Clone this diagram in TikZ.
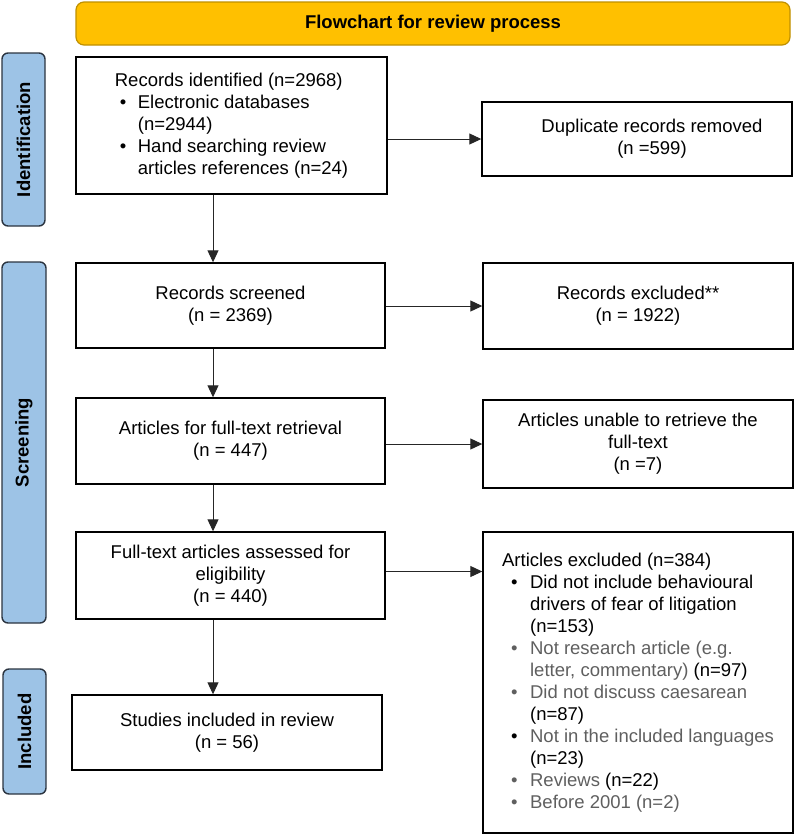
\documentclass[tikz,border=0pt]{standalone}
\usepackage{fontspec}
\setmainfont{Liberation Sans}
\usetikzlibrary{arrows.meta}
\definecolor{titlefill}{HTML}{FFC000}
\definecolor{titledraw}{HTML}{BF9000}
\definecolor{sidefill}{HTML}{9DC3E6}
\definecolor{sidedraw}{HTML}{2B3440}
\definecolor{txtgray}{RGB}{95,95,95}
\newcommand{\bitem}[3]{\hspace*{#1}\makebox[#2][l]{\textcolor{#3}{•}}}
\tikzset{
  mainfont/.style={font=\fontsize{18.5}{22}\selectfont},
  flowbox/.style={draw, line width=1.4pt, inner sep=0pt, align=center, mainfont},
  sidebox/.style={draw=sidedraw, fill=sidefill, line width=1.4pt, rounded corners=6pt, inner sep=0pt},
  sidetext/.style={rotate=90, font=\fontsize{18.5}{22}\selectfont\bfseries},
  arr/.style={draw=black!85, line width=1pt, -{Triangle[length=12pt,width=11pt]}}
}
\begin{document}
\begin{tikzpicture}[x=1pt,y=-1pt]
\useasboundingbox (0,0) rectangle (795,835);

% title
\node[draw=titledraw, fill=titlefill, line width=1.2pt, rounded corners=8pt,
      minimum width=714pt, minimum height=43pt, inner sep=0pt,
      font=\fontsize{18.5}{22}\selectfont\bfseries] (title) at (433,23.5) {Flowchart for review process};

% side labels
\node[sidebox, minimum width=43pt, minimum height=173pt] (sideid) at (23.5,139.5) {};
\node[sidetext] (sideidt) at (sideid.center) {Identification};
\node[sidebox, minimum width=44pt, minimum height=361pt] (sidescr) at (24,442.5) {};
\node[sidetext] (sidescrt) at (sidescr.center) {Screening};
\node[sidebox, minimum width=43pt, minimum height=125pt] (sideinc) at (24.5,731.5) {};
\node[sidetext] (sideinct) at (sideinc.center) {Included};

% left column
\node[flowbox, align=left, minimum width=311pt, minimum height=137pt] (ident) at (231.5,125.5)
  {Records identified (n=2968)\\
   \bitem{5pt}{18pt}{black}Electronic databases\\
   \hspace*{23pt}(n=2944)\\
   \bitem{5pt}{18pt}{black}Hand searching review\\
   \hspace*{23pt}articles references (n=24)};
\node[flowbox, minimum width=309pt, minimum height=85pt] (screened) at (230.5,305.5)
  {Records screened\\(n = 2369)};
\node[flowbox, minimum width=309pt, minimum height=86pt] (retr) at (230.5,441)
  {Articles for full-text retrieval\\(n = 447)};
\node[flowbox, minimum width=309pt, minimum height=87pt] (assess) at (230.5,575.5)
  {Full-text articles assessed for\\eligibility\\(n = 440)};
\node[flowbox, minimum width=310pt, minimum height=75pt] (studies) at (227,732.5)
  {Studies included in review\\(n = 56)};

% right column
\node[flowbox, minimum width=310pt, minimum height=74pt] (dup) at (637,139)
  {\hspace*{30pt}Duplicate records removed\\\hspace*{30pt}(n =599)};
\node[flowbox, minimum width=310pt, minimum height=86pt] (recex) at (638,306)
  {Records excluded**\\(n = 1922)};
\node[flowbox, minimum width=310pt, minimum height=88pt] (unable) at (638,444)
  {Articles unable to retrieve the\\full-text\\(n =7)};
\node[flowbox, align=left, minimum width=310pt, minimum height=301pt] (artex) at (638,682.5)
  {Articles excluded (n=384)\\
   \bitem{9pt}{19pt}{black}Did not include behavioural\\
   \hspace*{28pt}drivers of fear of litigation\\
   \hspace*{28pt}(n=153)\\
   \bitem{9pt}{19pt}{txtgray}\textcolor{txtgray}{Not research article (e.g.}\\
   \hspace*{28pt}\textcolor{txtgray}{letter, commentary)} (n=97)\\
   \bitem{9pt}{19pt}{txtgray}\textcolor{txtgray}{Did not discuss caesarean}\\
   \hspace*{28pt}(n=87)\\
   \bitem{9pt}{19pt}{black}\textcolor{txtgray}{Not in the included languages}\\
   \hspace*{28pt}(n=23)\\
   \bitem{9pt}{19pt}{txtgray}\textcolor{txtgray}{Reviews} (n=22)\\
   \bitem{9pt}{19pt}{txtgray}\textcolor{txtgray}{Before 2001 (n=2)}};

% connectors
\coordinate (ax) at (213,0);
\draw[arr] (ident.south -| ax) -- (screened.north -| ax);
\draw[arr] (screened.south -| ax) -- (retr.north -| ax);
\draw[arr] (retr.south -| ax) -- (assess.north -| ax);
\draw[arr] (assess.south -| ax) -- (studies.north -| ax);

\draw[arr] (ident.east |- dup.west) -- (dup.west);
\draw[arr] (screened.east |- recex.west) -- (recex.west);
\draw[arr] (retr.east |- unable.west) -- (unable.west);
\draw[arr] ([yshift=4pt]assess.east) -- ([yshift=4pt]assess.east -| artex.west);
\end{tikzpicture}
\end{document}
